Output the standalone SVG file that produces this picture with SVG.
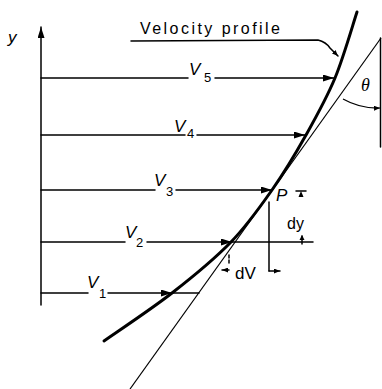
<svg xmlns="http://www.w3.org/2000/svg" width="382" height="389" viewBox="0 0 382 389">
<defs>
<style>
.ln{stroke:#000;stroke-width:1.5;fill:none;stroke-linecap:round}
.th{stroke:#000;stroke-width:1.2;fill:none}
.lab{font-family:"Liberation Sans",Arial,sans-serif;font-style:italic;fill:#000}
.up{font-family:"Liberation Sans",Arial,sans-serif;font-style:normal;fill:#000}
.v{font-size:17px}
.sub{font-size:13px;font-style:normal}
.serif{font-family:"Liberation Serif","Times New Roman",serif;font-style:italic;fill:#000}
</style>
<marker id="ah" markerUnits="userSpaceOnUse" markerWidth="11" markerHeight="7" refX="11" refY="3.5" orient="auto">
<path d="M0,0 L11,3.5 L0,7 z" fill="#000"/>
</marker>
<marker id="sa" markerUnits="userSpaceOnUse" markerWidth="6" markerHeight="5" refX="6" refY="2.5" orient="auto">
<path d="M0,0 L6,2.5 L0,5 z" fill="#000"/>
</marker>
</defs>
<rect width="382" height="389" fill="#fff"/>

<g id="axis">
<line class="ln" x1="41" y1="305" x2="41" y2="27" marker-end="url(#ah)"/>
<text class="lab v" x="8" y="43">y</text>
</g>

<g id="connectors">
<line class="ln" x1="41" y1="78" x2="188" y2="78"/>
<line class="ln" x1="215" y1="78" x2="334" y2="78" marker-end="url(#ah)"/>
<line class="ln" x1="41" y1="135" x2="185" y2="135"/>
<line class="ln" x1="197" y1="135" x2="305" y2="135" marker-end="url(#ah)"/>
<line class="ln" x1="41" y1="190" x2="155" y2="190"/>
<line class="ln" x1="176" y1="190" x2="272" y2="190" marker-end="url(#ah)"/>
<line class="ln" x1="41" y1="242" x2="125" y2="242"/>
<line class="ln" x1="147" y1="242" x2="232" y2="242" marker-end="url(#ah)"/>
<line class="ln" x1="232" y1="242" x2="313" y2="242"/>
<line class="ln" x1="41" y1="293" x2="88" y2="293"/>
<line class="ln" x1="108" y1="293" x2="172" y2="293" marker-end="url(#ah)"/>
<line class="ln" x1="172" y1="293" x2="199" y2="293"/>
<path class="ln" d="M131,41 L318,40 Q326,42 330,48 L338,56" marker-end="url(#sa)"/>
</g>

<g id="profile">
<path d="M104,341 C115.3,333 150.8,309.5 172,293 C193.2,276.5 214.3,259.2 231,242 C247.7,224.8 259.5,207.8 272,190 C284.5,172.2 295.5,153.7 306,135 C316.5,116.3 326.5,98.5 335,78 C343.5,57.5 353.3,23 357,12" fill="none" stroke="#000" stroke-width="3" stroke-linecap="round"/>
<text class="up" x="140" y="34" font-size="16" textLength="140" lengthAdjust="spacing">Velocity profile</text>
</g>

<g id="tangent">
<line class="th" x1="130" y1="389" x2="381" y2="38"/>
<line class="ln" x1="380.5" y1="38" x2="380.5" y2="147"/>
<path class="th" d="M343,99 A70,70 0 0 0 380,108" marker-end="url(#sa)"/>
<text class="serif" x="361" y="91" font-size="18">θ</text>
</g>

<g id="labels">
<text class="lab v" x="189" y="75">V</text><text class="lab sub" x="204" y="82">5</text>
<text class="lab v" x="174" y="132">V</text><text class="lab sub" x="187" y="138">4</text>
<text class="lab v" x="154" y="186">V</text><text class="lab sub" x="166" y="196">3</text>
<text class="lab v" x="125" y="238">V</text><text class="lab sub" x="136" y="247">2</text>
<text class="lab v" x="87" y="288">V</text><text class="lab sub" x="99" y="298">1</text>
</g>

<g id="point-P">
<text class="lab" x="276" y="201" font-size="17">P</text>
<line class="ln" x1="296" y1="191" x2="306" y2="191"/>
<path d="M301,191 L298.5,197 L303.5,197 z" fill="#000"/>
<text class="up" x="287" y="229" font-size="16">dy</text>
<line class="ln" x1="302" y1="244" x2="302" y2="236"/>
<path d="M302,235 L299.5,240 L304.5,240 z" fill="#000"/>
</g>

<g id="dV">
<line class="ln" x1="269" y1="202" x2="269" y2="271"/>
<line class="ln" x1="269" y1="271" x2="280" y2="271" marker-end="url(#sa)"/>
<line class="ln" x1="229" y1="255" x2="229" y2="264" stroke-dasharray="3,2"/>
<line class="ln" x1="229" y1="270" x2="222" y2="270" marker-end="url(#sa)"/>
<text class="up" x="235" y="279" font-size="17">dV</text>
</g>
</svg>
